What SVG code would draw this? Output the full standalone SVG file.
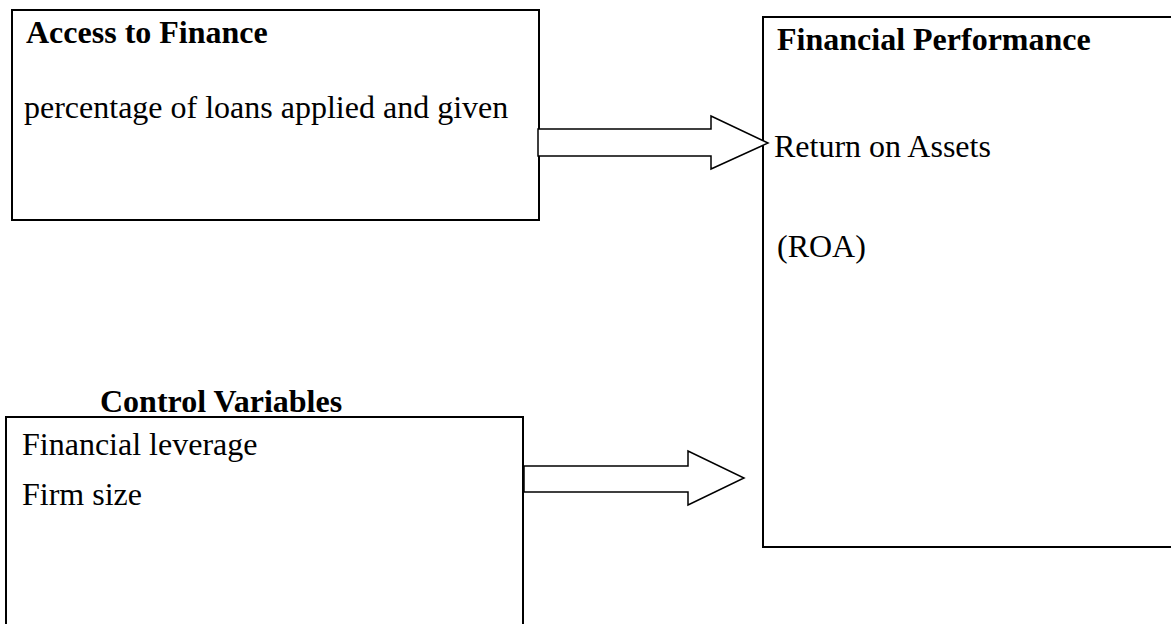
<svg xmlns="http://www.w3.org/2000/svg" width="1171" height="624" viewBox="0 0 1171 624">
<style>
.box{fill:#fff;stroke:#000;stroke-width:2}
.arrow{fill:#fff;stroke:#000;stroke-width:1.5;stroke-linejoin:miter}
text{font-family:"Liberation Serif","Times New Roman",serif;font-size:32px;fill:#000}
.b{font-weight:bold}
</style>
<rect width="1171" height="624" fill="#fff"/>
<g id="access">
<rect class="box" x="12" y="10" width="527" height="210"/>
<text class="b" x="26" y="43">Access to Finance</text>
<text x="24" y="118">percentage of loans applied and given</text>
</g>
<g id="performance">
<rect class="box" x="763" y="17" width="420" height="530"/>
<text class="b" x="777" y="50">Financial Performance</text>
<text x="774" y="157">Return on Assets</text>
<text x="777" y="257">(ROA)</text>
</g>
<g id="control">
<text class="b" x="100" y="412">Control Variables</text>
<rect class="box" x="6" y="417" width="517" height="220"/>
<text x="22" y="455">Financial leverage</text>
<text x="22" y="505">Firm size</text>
</g>
<g id="connectors">
<polygon class="arrow" points="538,129 711,129 711,116 768,143 711,169 711,156 538,156"/>
<polygon class="arrow" points="524,466 688,466 688,451 744,478 688,505 688,492 524,492"/>
</g>
</svg>
